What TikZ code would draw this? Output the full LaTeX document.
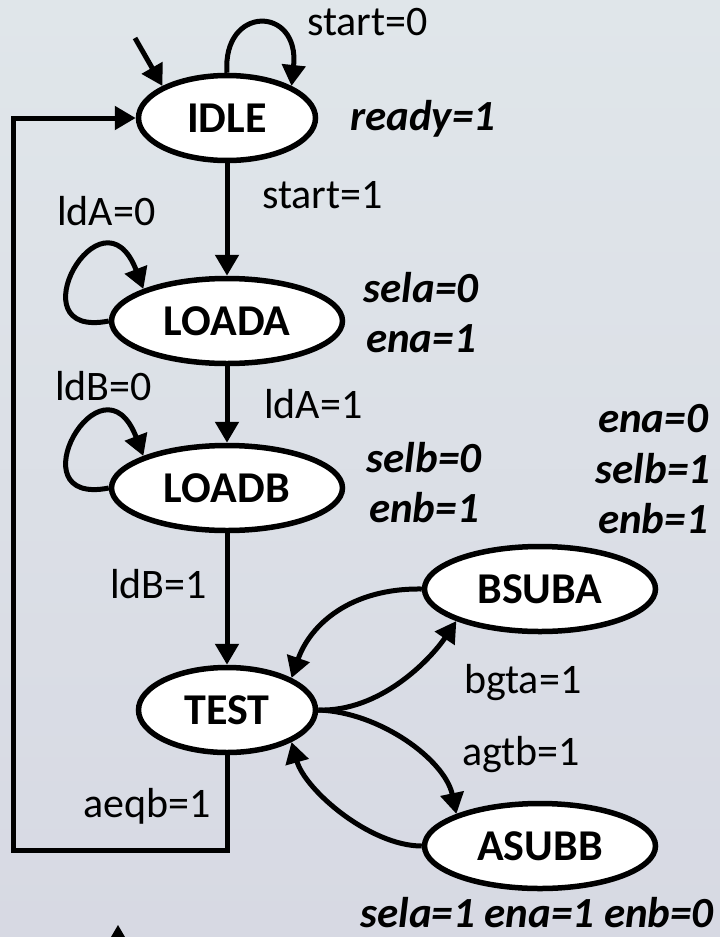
\documentclass[tikz,border=0pt]{standalone}
\usepackage{fontspec}
\setmainfont{Carlito}
\usetikzlibrary{shapes.geometric,arrows.meta}
\definecolor{bgtop}{RGB}{224,230,234}
\definecolor{bgbot}{RGB}{215,217,227}
\begin{document}
\begin{tikzpicture}[x=1pt,y=-1pt,
  stnode/.style={ellipse,draw=black,fill=white,line width=5.5pt,inner sep=0pt,
    font=\fontsize{44}{52}\selectfont\bfseries},
  smallst/.style={minimum width=177pt,minimum height=85pt},
  widest/.style={minimum width=231pt,minimum height=85pt},
  lbl/.style={font=\fontsize{42}{50}\selectfont,inner sep=0pt,anchor=base west},
  outp/.style={font=\fontsize{43}{50}\selectfont\bfseries\itshape,inner sep=0pt,anchor=base},
  conn/.style={line width=5pt,-{Triangle[length=21pt,width=23pt]}}
]
\shade[top color=bgtop,bottom color=bgbot] (0,0) rectangle (720,937);
\useasboundingbox (0,0) rectangle (720,937);

% states
\node[stnode,smallst] (idle)  at (227,118) {IDLE};
\node[stnode,widest]  (loada) at (227,321) {LOADA};
\node[stnode,widest]  (loadb) at (227,488) {LOADB};
\node[stnode,smallst] (test)  at (227,710) {TEST};
\node[stnode,widest]  (bsuba) at (540,589) {BSUBA};
\node[stnode,widest]  (asubb) at (540,846) {ASUBB};

% connectors
\coordinate (init) at (135,38);
\draw[conn] (init) -- (idle.north west);
\draw[conn] (idle.north) .. controls (222,5) and (300,5) .. (idle.north east);
\draw[conn] (idle.south) -- (loada.north);
\draw[conn] (loada.west) .. controls +(-96,19) and +(-41.5,-108.5) .. (loada.north west);
\draw[conn] (loada.south) -- (loadb.north);
\draw[conn] (loadb.west) .. controls +(-96,19) and +(-41.5,-108.5) .. (loadb.north west);
\draw[conn] (loadb.south) -- (test.north);
\coordinate (fb) at (13,850);
\draw[conn] (test.south) |- (fb) |- (idle.west);
\draw[conn] (bsuba.west) .. controls (350,588) and (310,625) .. (test.north east);
\draw[conn] (test.east) .. controls (380,712) and (430,660) .. (bsuba.south west);
\draw[conn] (test.east) .. controls (380,712) and (445,760) .. (asubb.north west);
\draw[conn] (asubb.west) .. controls (370,846) and (305,790) .. (test.south east);

% labels
\node[lbl] (l1) at (307,35) {start=0};
\node[lbl] (l2) at (262,208) {start=1};
\node[lbl] (l3) at (57,225) {ldA=0};
\node[lbl] (l4) at (55,400) {ldB=0};
\node[lbl] (l5) at (264,418) {ldA=1};
\node[lbl] (l6) at (110,598) {ldB=1};
\node[lbl] (l7) at (464,693) {bgta=1};
\node[lbl] (l8) at (462,765) {agtb=1};
\node[lbl] (l9) at (83,817) {aeqb=1};

% outputs
\node[outp,anchor=base west] (o1) at (350,130) {ready=1};
\node[outp] (o2) at (421,302) {sela=0};
\node[outp] (o3) at (421,352) {ena=1};
\node[outp] (o4) at (424,472) {selb=0};
\node[outp] (o5) at (424,522) {enb=1};
\node[outp] (o6) at (653,432) {ena=0};
\node[outp] (o7) at (653,483) {selb=1};
\node[outp] (o8) at (653,533) {enb=1};
\node[outp,anchor=base east] (o9) at (714,927) {sela=1 ena=1 enb=0};

% fragment at bottom edge
\fill (118,925) -- (111,937) -- (125,937) -- cycle;
\end{tikzpicture}
\end{document}
